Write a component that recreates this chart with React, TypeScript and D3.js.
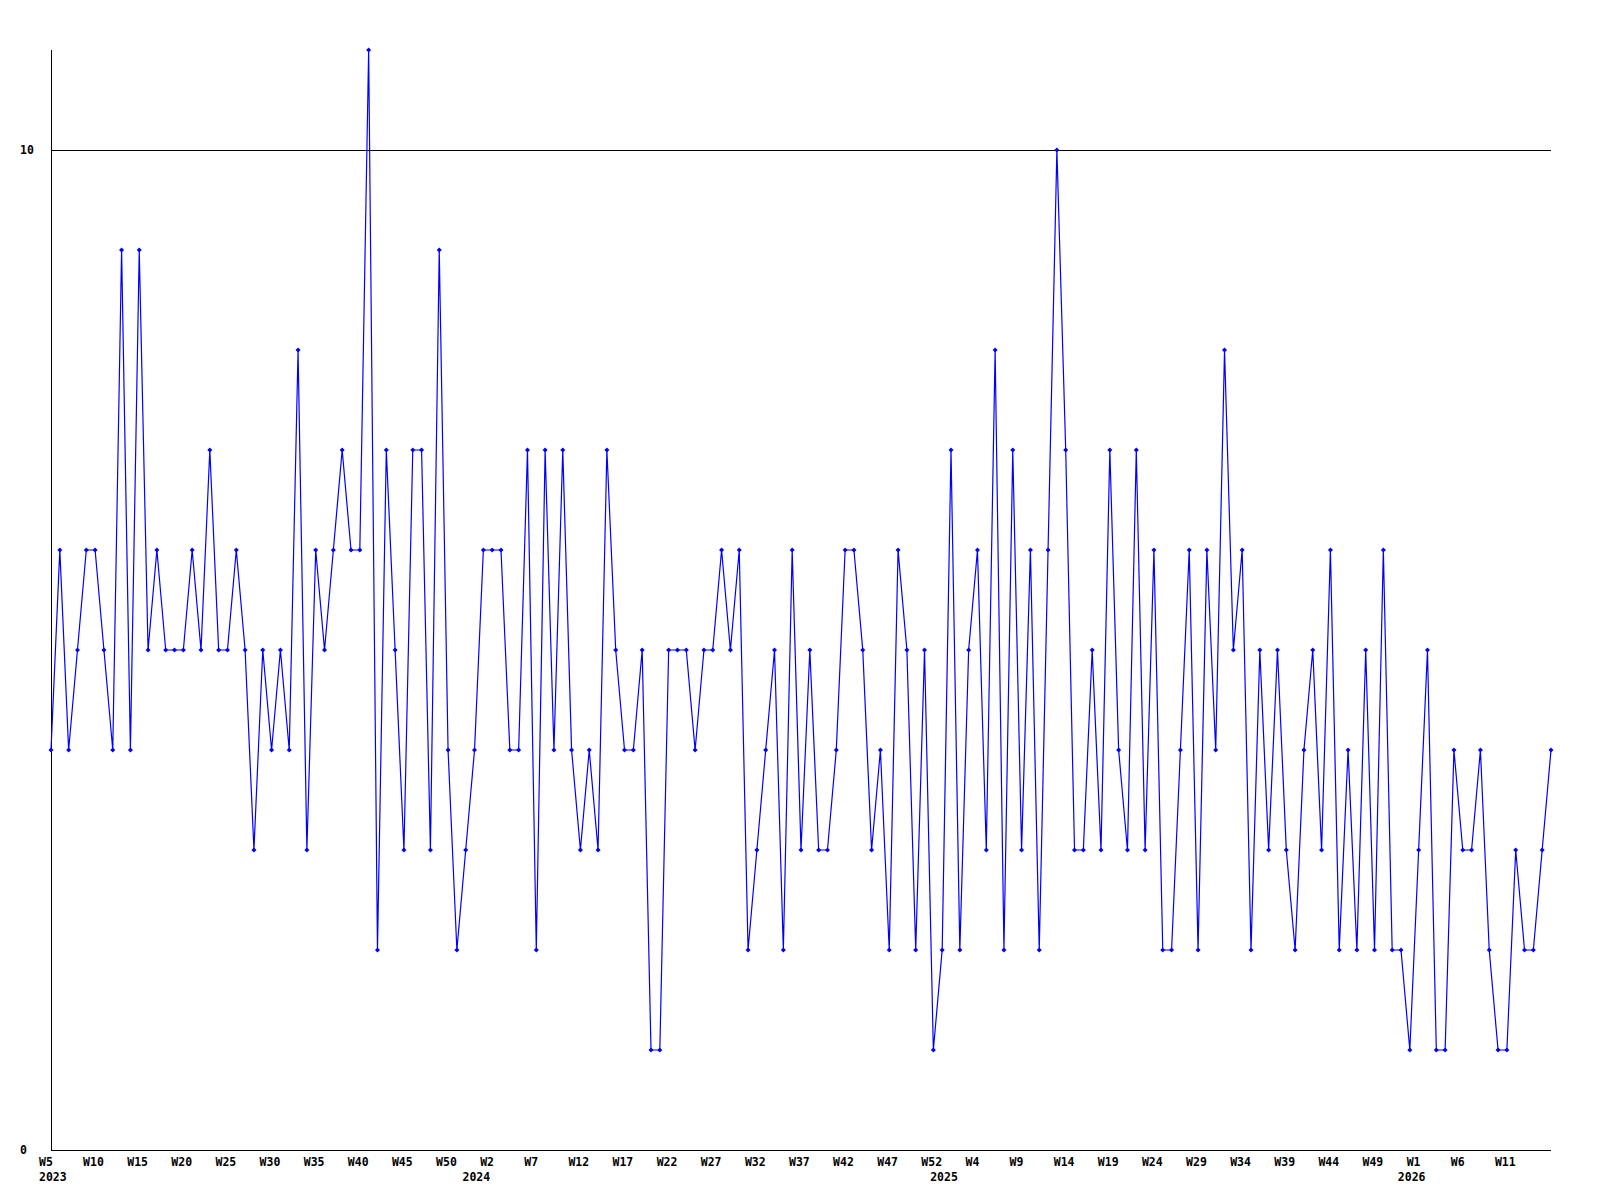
import React from "react";
import * as d3 from "d3";

// Weekly values, 2023 W5 .. 2026 W15
const values: number[] = [
  4, 6, 4, 5, 6, 6, 5, 4, 9, 4,
  9, 5, 6, 5, 5, 5, 6, 5, 7, 5,
  5, 6, 5, 3, 5, 4, 5, 4, 8, 3,
  6, 5, 6, 7, 6, 6, 11, 2, 7, 5,
  3, 7, 7, 3, 9, 4, 2, 3, 4, 6,
  6, 6, 4, 4, 7, 2, 7, 4, 7, 4,
  3, 4, 3, 7, 5, 4, 4, 5, 1, 1,
  5, 5, 5, 4, 5, 5, 6, 5, 6, 2,
  3, 4, 5, 2, 6, 3, 5, 3, 3, 4,
  6, 6, 5, 3, 4, 2, 6, 5, 2, 5,
  1, 2, 7, 2, 5, 6, 3, 8, 2, 7,
  3, 6, 2, 6, 10, 7, 3, 3, 5, 3,
  7, 4, 3, 7, 3, 6, 2, 2, 4, 6,
  2, 6, 4, 8, 5, 6, 2, 5, 3, 5,
  3, 2, 4, 5, 3, 6, 2, 4, 2, 5,
  2, 6, 2, 2, 1, 3, 5, 1, 1, 4,
  3, 3, 4, 2, 1, 1, 3, 2, 2, 3,
  4,
];

// Week tick labels, one every 5 points starting at index 0
const weekTickLabels: string[] = [
  "W5", "W10", "W15", "W20", "W25", "W30", "W35", "W40", "W45", "W50",
  "W2", "W7", "W12", "W17", "W22", "W27", "W32", "W37", "W42", "W47", "W52",
  "W4", "W9", "W14", "W19", "W24", "W29", "W34", "W39", "W44", "W49",
  "W1", "W6", "W11",
];
const weekTickStep = 5;

// Year labels and the point index where each year starts
const yearLabels: string[] = ["2023", "2024", "2025", "2026"];
const yearStartIndex: number[] = [0, 48, 101, 154];

// Y axis labels
const yTickValues: number[] = [0, 10];
const yMax = 11;

const W = 1600;
const H = 1200;
const left = 51;
const right = 1551;
const top = 50;
const bottom = 1150;

const FONT = "'DejaVu Sans Mono', monospace";

export default function App() {
  const x = d3.scaleLinear().domain([0, values.length - 1]).range([left, right]);
  const y = d3.scaleLinear().domain([0, yMax]).range([bottom, top]);

  const line = d3
    .line<number>()
    .x((_, i) => x(i))
    .y((d) => y(d));

  const textStyle: React.CSSProperties = {
    fontFamily: FONT,
    fontWeight: "bold",
    fontSize: "11.5px",
  };

  return (
    <div style={{ position: "absolute", left: 0, top: 0, width: W, height: H, background: "#fff" }}>
      <svg width={W} height={H} style={{ display: "block" }}>
        <rect x={0} y={0} width={W} height={H} fill="#fff" />
        {/* gridline at 10 */}
        {yTickValues
          .filter((v) => v > 0)
          .map((v) => (
            <line
              key={"g" + v}
              x1={left}
              x2={right}
              y1={Math.round(y(v)) + 0.5}
              y2={Math.round(y(v)) + 0.5}
              stroke="#000"
              strokeWidth={1}
              shapeRendering="crispEdges"
            />
          ))}
        {/* axes */}
        <line x1={left + 0.5} x2={left + 0.5} y1={top} y2={bottom + 1} stroke="#000" strokeWidth={1} shapeRendering="crispEdges" />
        <line x1={left} x2={right} y1={bottom + 0.5} y2={bottom + 0.5} stroke="#000" strokeWidth={1} shapeRendering="crispEdges" />
        {/* y labels */}
        {yTickValues.map((v) => (
          <text key={"y" + v} x={20} y={y(v) + 4} style={textStyle} fill="#000">
            {String(v)}
          </text>
        ))}
        {/* week labels */}
        {weekTickLabels.map((lab, k) => (
          <text key={"w" + k} x={x(k * weekTickStep) - 12} y={1166} style={textStyle} fill="#000">
            {lab}
          </text>
        ))}
        {/* year labels */}
        {yearLabels.map((lab, k) => (
          <text key={"yr" + k} x={x(yearStartIndex[k]) - 12} y={1181} style={textStyle} fill="#000">
            {lab}
          </text>
        ))}
        {/* data line */}
        <path d={line(values) || ""} fill="none" stroke="#0000ff" strokeWidth={1.2} />
        {/* markers */}
        {values.map((v, i) => {
          const cx = x(i);
          const cy = y(v);
          return (
            <path
              key={"m" + i}
              d={`M${cx - 2.5},${cy} L${cx},${cy - 2.5} L${cx + 2.5},${cy} L${cx},${cy + 2.5} Z`}
              fill="#0000ff"
            />
          );
        })}
      </svg>
    </div>
  );
}
